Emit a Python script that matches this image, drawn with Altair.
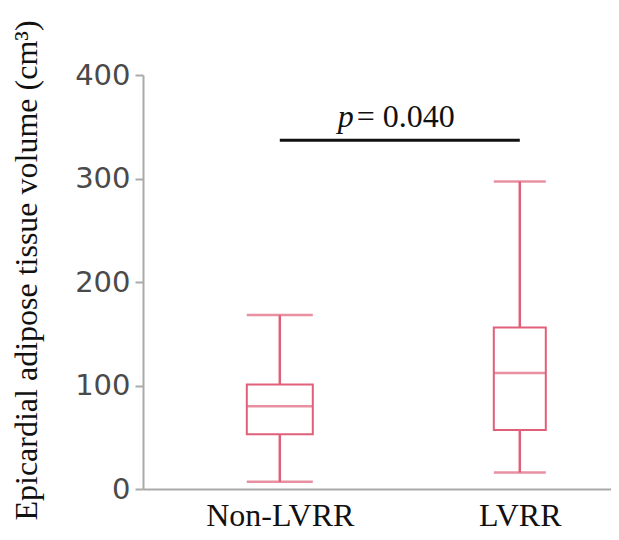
import altair as alt
import pandas as pd

# ---- data ----
groups = ["Non-LVRR", "LVRR"]
whisker_low = [7, 16]
q1 = [53, 57]
median = [80, 112]
q3 = [101, 156]
whisker_high = [168, 297]

bracket_y = 337
p_symbol = "p"
p_value_text = "= 0.040"

y_ticks = [0, 100, 200, 300, 400]

box_color = "#e0607a"

df = pd.DataFrame({
    "group": groups,
    "low": whisker_low,
    "q1": q1,
    "median": median,
    "q3": q3,
    "high": whisker_high,
})
ann = pd.DataFrame({"g1": [groups[0]], "g2": [groups[1]], "y": [bracket_y],
                    "p": [p_symbol], "val": [p_value_text]})

xscale = alt.Scale(type="point", domain=groups, padding=0.475, align=0.6)
yscale = alt.Scale(domain=[0, 400], nice=False)
size_scale = alt.Scale(domain=groups, range=[66, 52])

x_enc = alt.X("group:N", scale=xscale, sort=groups,
              axis=alt.Axis(title=None, labelAngle=0, ticks=False,
                            labelFont="Liberation Serif", labelFontSize=32,
                            labelColor="#111111", labelPadding=11,
                            domainColor="#aaaaaa", domainWidth=2))
y_axis = alt.Axis(values=y_ticks, grid=False,
                  title="Epicardial adipose tissue volume (cm³)",
                  titleFont="Liberation Serif", titleFontSize=32,
                  titleFontWeight="normal", titleColor="#111111",
                  titleX=-117, titleY=195, titleBaseline="middle",
                  labelFont="DejaVu Sans", labelFontSize=29,
                  labelColor="#4a4a4a", labelPadding=5,
                  tickSize=8, tickWidth=2, tickColor="#aaaaaa",
                  domainColor="#aaaaaa", domainWidth=2)

base = alt.Chart(df)

whiskers = base.mark_rule(color=box_color, strokeWidth=2.5).encode(
    x=x_enc,
    y=alt.Y("low:Q", scale=yscale, axis=y_axis),
    y2="high:Q",
)

box = base.mark_bar(fill="white", stroke=box_color, strokeWidth=2).encode(
    x=alt.X("group:N", scale=xscale, sort=groups),
    y=alt.Y("q1:Q", scale=yscale),
    y2="q3:Q",
    size=alt.Size("group:N", scale=size_scale, legend=None),
)

def tick_layer(field):
    return base.mark_tick(color=box_color, thickness=2.5).encode(
        x=alt.X("group:N", scale=xscale, sort=groups),
        y=alt.Y(f"{field}:Q", scale=yscale),
        size=alt.Size("group:N", scale=size_scale, legend=None),
    )

med = tick_layer("median")
cap_low = tick_layer("low")
cap_high = tick_layer("high")

bracket = alt.Chart(ann).mark_rule(color="#111111", strokeWidth=3).encode(
    x=alt.X("g1:N", scale=xscale),
    x2="g2:N",
    y=alt.Y("y:Q", scale=yscale),
)

p_txt = alt.Chart(ann).mark_text(
    font="Liberation Serif", fontSize=32, fontStyle="italic",
    align="left", baseline="alphabetic", dx=58, dy=-13, color="#111111"
).encode(x=alt.X("g1:N", scale=xscale), y=alt.Y("y:Q", scale=yscale), text="p:N")

v_txt = alt.Chart(ann).mark_text(
    font="Liberation Serif", fontSize=32,
    align="left", baseline="alphabetic", dx=77, dy=-13, color="#111111"
).encode(x=alt.X("g1:N", scale=xscale), y=alt.Y("y:Q", scale=yscale), text="val:N")

chart = alt.layer(whiskers, box, med, cap_low, cap_high, bracket, p_txt, v_txt).properties(
    width=468, height=414,
    padding={"left": 135, "top": 67, "right": 0, "bottom": 43},
    autosize=alt.AutoSizeParams(type="none"),
    background="white",
).configure_view(strokeWidth=0)

chart.save("out.html", embed_options={"renderer": "svg", "actions": False})
